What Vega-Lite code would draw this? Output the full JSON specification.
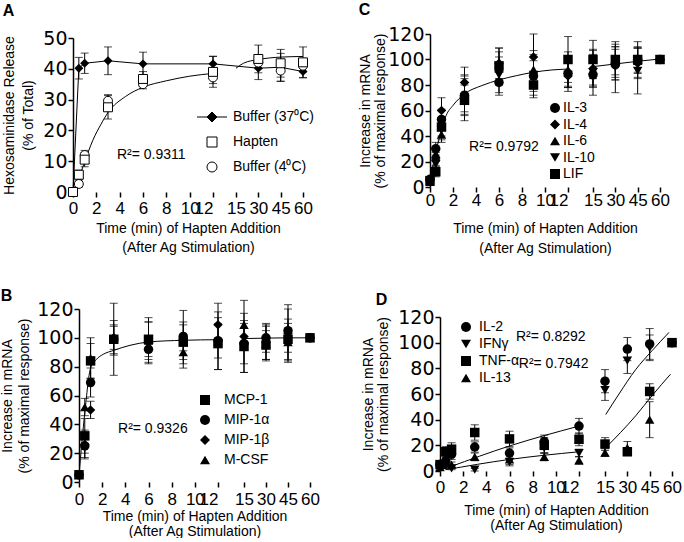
{
"$schema": "https://vega.github.io/schema/vega-lite/v6.json",
"background": "white",
"padding": {"left": 0, "top": 2, "right": 0, "bottom": 0},
"config": {
 "font": "Liberation Sans",
 "view": {"stroke": null},
 "axis": {"grid": false, "domainColor": "black", "tickColor": "black", "labelColor": "black", "titleColor": "black", "domainWidth": 1.5, "tickWidth": 1.5, "tickSize": 5, "labelFont": "DejaVu Sans", "labelFontSize": 18, "titleFont": "Liberation Sans", "titleFontSize": 14, "titleFontWeight": "normal"},
 "axisX": {"labelFont": "Liberation Sans", "labelFontSize": 17},
 "axisY": {"labelFontSize": 19, "labelPadding": 1},
 "legend": {"orient": "none", "padding": 0, "labelFont": "Liberation Sans", "labelFontSize": 14, "labelColor": "black", "symbolSize": 100, "symbolStrokeWidth": 1, "symbolStrokeColor": "black"},
 "title": {"fontSize": 16, "fontWeight": "bold", "anchor": "start", "frame": "bounds", "font": "Liberation Sans", "color": "black"},
 "line": {"color": "black", "strokeWidth": 1}
},
"datasets": {
 "A_pts": [
  {"s":"Buffer (37⁰C)","t":0,"v":0},
  {"s":"Buffer (37⁰C)","t":0.5,"v":40.2,"e":3.5},
  {"s":"Buffer (37⁰C)","t":1,"v":41.8,"e":3.3},
  {"s":"Buffer (37⁰C)","t":3,"v":42.6,"e":4.5},
  {"s":"Buffer (37⁰C)","t":6,"v":41.6,"e":3.8},
  {"s":"Buffer (37⁰C)","t":12,"v":41.6,"e":2.5},
  {"s":"Buffer (37⁰C)","t":30,"v":40.2,"e":3.7},
  {"s":"Buffer (37⁰C)","t":45,"v":40.5,"e":4.5},
  {"s":"Buffer (37⁰C)","t":60,"v":39.1,"e":2},
  {"s":"Buffer (4⁰C)","t":0,"v":0},
  {"s":"Buffer (4⁰C)","t":0.5,"v":2.6,"e":1},
  {"s":"Buffer (4⁰C)","t":1,"v":12,"e":1.5},
  {"s":"Buffer (4⁰C)","t":3,"v":29.6,"e":2},
  {"s":"Buffer (4⁰C)","t":6,"v":35,"e":1.5},
  {"s":"Buffer (4⁰C)","t":12,"v":37.2,"e":2},
  {"s":"Buffer (4⁰C)","t":30,"v":42,"e":2},
  {"s":"Buffer (4⁰C)","t":45,"v":39.4,"e":3.5},
  {"s":"Buffer (4⁰C)","t":60,"v":41,"e":2},
  {"s":"Hapten","t":0,"v":0},
  {"s":"Hapten","t":0.5,"v":5.6,"e":1.5},
  {"s":"Hapten","t":1,"v":10.5,"e":2.3},
  {"s":"Hapten","t":3,"v":27.5,"e":3.8},
  {"s":"Hapten","t":6,"v":36.7,"e":2.4},
  {"s":"Hapten","t":12,"v":39,"e":5},
  {"s":"Hapten","t":30,"v":43.2,"e":4.5},
  {"s":"Hapten","t":45,"v":41.8,"e":4.5},
  {"s":"Hapten","t":60,"v":42.1,"e":5}
 ],
 "A_fit": [
  {"seg":"L","t":0,"v":0},{"seg":"L","t":0.5,"v":4.5},{"seg":"L","t":1,"v":9.8},{"seg":"L","t":1.7,"v":16.8},{"seg":"L","t":2.4,"v":22},{"seg":"L","t":3,"v":25.8},{"seg":"L","t":4.5,"v":31},{"seg":"L","t":6,"v":34},{"seg":"L","t":8,"v":36.1},{"seg":"L","t":10,"v":37.6},{"seg":"L","t":12,"v":38.5},
  {"seg":"R","t":15,"v":40.2},{"seg":"R","t":20,"v":41.8},{"seg":"R","t":30,"v":43},{"seg":"R","t":45,"v":43.8},{"seg":"R","t":60,"v":44}
 ],
 "A_txt": [{"t":3.77,"v":12,"label":"R²= 0.9311"}],
 "C_pts": [
  {"s":"IL-3","t":0,"v":6,"e":2},{"s":"IL-3","t":0.5,"v":30,"e":5},{"s":"IL-3","t":1,"v":53,"e":8},{"s":"IL-3","t":3,"v":72,"e":13},{"s":"IL-3","t":6,"v":82,"e":10},{"s":"IL-3","t":9,"v":87,"e":12},{"s":"IL-3","t":12,"v":89,"e":10},{"s":"IL-3","t":15,"v":88,"e":10},{"s":"IL-3","t":30,"v":96,"e":12},{"s":"IL-3","t":45,"v":100,"e":14},{"s":"IL-3","t":60,"v":100},
  {"s":"IL-4","t":0,"v":5,"e":2},{"s":"IL-4","t":0.5,"v":22,"e":5},{"s":"IL-4","t":1,"v":60,"e":10},{"s":"IL-4","t":3,"v":82,"e":12},{"s":"IL-4","t":6,"v":97,"e":12},{"s":"IL-4","t":9,"v":102,"e":18},{"s":"IL-4","t":12,"v":87,"e":12},{"s":"IL-4","t":15,"v":93,"e":14},{"s":"IL-4","t":30,"v":97,"e":13},{"s":"IL-4","t":45,"v":97,"e":12},{"s":"IL-4","t":60,"v":100},
  {"s":"IL-6","t":0,"v":4,"e":2},{"s":"IL-6","t":0.5,"v":26,"e":6},{"s":"IL-6","t":1,"v":41,"e":6},{"s":"IL-6","t":3,"v":72,"e":15},{"s":"IL-6","t":6,"v":93,"e":13},{"s":"IL-6","t":9,"v":92,"e":15},{"s":"IL-6","t":12,"v":92,"e":14},{"s":"IL-6","t":15,"v":92,"e":12},{"s":"IL-6","t":30,"v":98,"e":12},{"s":"IL-6","t":45,"v":99,"e":10},{"s":"IL-6","t":60,"v":100},
  {"s":"IL-10","t":0,"v":5,"e":2},{"s":"IL-10","t":0.5,"v":18,"e":5},{"s":"IL-10","t":1,"v":45,"e":8},{"s":"IL-10","t":3,"v":70,"e":18},{"s":"IL-10","t":6,"v":88,"e":14},{"s":"IL-10","t":9,"v":88,"e":16},{"s":"IL-10","t":12,"v":88,"e":10},{"s":"IL-10","t":15,"v":90,"e":18},{"s":"IL-10","t":30,"v":94,"e":20},{"s":"IL-10","t":45,"v":91,"e":18},{"s":"IL-10","t":60,"v":100},
  {"s":"LIF","t":0,"v":5,"e":3},{"s":"LIF","t":0.5,"v":12,"e":4},{"s":"LIF","t":1,"v":47,"e":7},{"s":"LIF","t":3,"v":68,"e":12},{"s":"LIF","t":6,"v":95,"e":14},{"s":"LIF","t":9,"v":80,"e":10},{"s":"LIF","t":12,"v":100,"e":18},{"s":"LIF","t":15,"v":100,"e":15},{"s":"LIF","t":30,"v":100,"e":12},{"s":"LIF","t":45,"v":100,"e":10},{"s":"LIF","t":60,"v":100}
 ],
 "C_fit": [
  {"seg":"L","t":0,"v":5},{"seg":"L","t":0.5,"v":27},{"seg":"L","t":1,"v":45},{"seg":"L","t":1.4,"v":56},{"seg":"L","t":2,"v":64},{"seg":"L","t":3,"v":73},{"seg":"L","t":4.5,"v":79.5},{"seg":"L","t":6,"v":84},{"seg":"L","t":7.5,"v":87.3},{"seg":"L","t":9,"v":90},{"seg":"L","t":10.6,"v":91.8},{"seg":"L","t":12,"v":92.5},
  {"seg":"R","t":15,"v":94.4},{"seg":"R","t":30,"v":96.5},{"seg":"R","t":45,"v":98.6},{"seg":"R","t":60,"v":100.4}
 ],
 "C_txt": [{"t":3.4,"v":31.4,"label":"R²= 0.9792"}],
 "B_pts": [
  {"s":"MCP-1","t":0,"v":5,"e":2},{"s":"MCP-1","t":0.5,"v":32,"e":12},{"s":"MCP-1","t":1,"v":84,"e":12},{"s":"MCP-1","t":3,"v":99,"e":25},{"s":"MCP-1","t":6,"v":99,"e":12},{"s":"MCP-1","t":9,"v":97,"e":12},{"s":"MCP-1","t":12,"v":96,"e":18},{"s":"MCP-1","t":15,"v":94,"e":18},{"s":"MCP-1","t":30,"v":95,"e":10},{"s":"MCP-1","t":45,"v":99,"e":14},{"s":"MCP-1","t":60,"v":100},
  {"s":"MIP-1α","t":0,"v":5,"e":1},{"s":"MIP-1α","t":0.5,"v":25,"e":8},{"s":"MIP-1α","t":1,"v":69,"e":10},{"s":"MIP-1α","t":3,"v":99,"e":10},{"s":"MIP-1α","t":6,"v":92,"e":7},{"s":"MIP-1α","t":9,"v":101,"e":10},{"s":"MIP-1α","t":12,"v":98,"e":20},{"s":"MIP-1α","t":15,"v":96,"e":14},{"s":"MIP-1α","t":30,"v":100,"e":10},{"s":"MIP-1α","t":45,"v":105,"e":15},{"s":"MIP-1α","t":60,"v":100},
  {"s":"MIP-1β","t":0,"v":5,"e":1},{"s":"MIP-1β","t":0.5,"v":26,"e":10},{"s":"MIP-1β","t":1,"v":50,"e":6},{"s":"MIP-1β","t":3,"v":100,"e":8},{"s":"MIP-1β","t":6,"v":97,"e":14},{"s":"MIP-1β","t":9,"v":99,"e":20},{"s":"MIP-1β","t":12,"v":109,"e":15},{"s":"MIP-1β","t":15,"v":101,"e":25},{"s":"MIP-1β","t":30,"v":97,"e":12},{"s":"MIP-1β","t":45,"v":103,"e":20},{"s":"MIP-1β","t":60,"v":100},
  {"s":"M-CSF","t":0,"v":5,"e":1},{"s":"M-CSF","t":0.5,"v":52,"e":6},{"s":"M-CSF","t":1,"v":86,"e":14},{"s":"M-CSF","t":3,"v":100,"e":12},{"s":"M-CSF","t":6,"v":98,"e":16},{"s":"M-CSF","t":9,"v":90,"e":8},{"s":"M-CSF","t":12,"v":98,"e":12},{"s":"M-CSF","t":15,"v":109,"e":8},{"s":"M-CSF","t":30,"v":96,"e":12},{"s":"M-CSF","t":45,"v":97,"e":13},{"s":"M-CSF","t":60,"v":100}
 ],
 "B_fit": [
  {"seg":"L","t":0,"v":5},{"seg":"L","t":0.5,"v":48},{"seg":"L","t":1,"v":79},{"seg":"L","t":1.5,"v":85},{"seg":"L","t":2.1,"v":88.6},{"seg":"L","t":3,"v":91.3},{"seg":"L","t":4.4,"v":94.8},{"seg":"L","t":6,"v":97.1},{"seg":"L","t":9,"v":98.3},{"seg":"L","t":12,"v":98.7},
  {"seg":"R","t":15,"v":99.5},{"seg":"R","t":30,"v":99.8},{"seg":"R","t":45,"v":100},{"seg":"R","t":60,"v":100}
 ],
 "B_txt": [{"t":3.37,"v":36.8,"label":"R²= 0.9326"}],
 "D_pts": [
  {"s":"IL-2","t":0,"v":5,"e":2},{"s":"IL-2","t":0.5,"v":8,"e":3},{"s":"IL-2","t":1,"v":13,"e":4},{"s":"IL-2","t":3,"v":18.7,"e":4},{"s":"IL-2","t":6,"v":14,"e":4},{"s":"IL-2","t":9,"v":23,"e":5},{"s":"IL-2","t":12,"v":35,"e":6},{"s":"IL-2","t":15,"v":70,"e":9},{"s":"IL-2","t":30,"v":95,"e":9},{"s":"IL-2","t":45,"v":99,"e":12},{"s":"IL-2","t":60,"v":100},
  {"s":"IFNγ","t":0,"v":3,"e":1},{"s":"IFNγ","t":0.5,"v":4,"e":2},{"s":"IFNγ","t":1,"v":2,"e":1},{"s":"IFNγ","t":3,"v":1,"e":1},{"s":"IFNγ","t":6,"v":7,"e":3},{"s":"IFNγ","t":9,"v":18,"e":4},{"s":"IFNγ","t":12,"v":14,"e":3},{"s":"IFNγ","t":15,"v":63,"e":8},{"s":"IFNγ","t":30,"v":86,"e":10},{"s":"IFNγ","t":45,"v":96,"e":10},{"s":"IFNγ","t":60,"v":100},
  {"s":"TNF-α","t":0,"v":5,"e":2},{"s":"TNF-α","t":0.5,"v":15,"e":4},{"s":"TNF-α","t":1,"v":17,"e":5},{"s":"TNF-α","t":3,"v":30,"e":6},{"s":"TNF-α","t":6,"v":25,"e":6},{"s":"TNF-α","t":9,"v":20,"e":6},{"s":"TNF-α","t":12,"v":24.7,"e":5},{"s":"TNF-α","t":15,"v":21,"e":5},{"s":"TNF-α","t":30,"v":15,"e":3},{"s":"TNF-α","t":45,"v":62,"e":6},{"s":"TNF-α","t":60,"v":100},
  {"s":"IL-13","t":0,"v":3,"e":1},{"s":"IL-13","t":0.5,"v":6,"e":2},{"s":"IL-13","t":1,"v":5,"e":2},{"s":"IL-13","t":3,"v":11,"e":3},{"s":"IL-13","t":6,"v":9,"e":4},{"s":"IL-13","t":9,"v":11,"e":3},{"s":"IL-13","t":12,"v":8.3,"e":3},{"s":"IL-13","t":15,"v":14.3,"e":3},{"s":"IL-13","t":30,"v":18,"e":5},{"s":"IL-13","t":45,"v":40,"e":14},{"s":"IL-13","t":60,"v":100}
 ],
 "D_fit": [
  {"seg":"uL","t":0.8,"v":3},{"seg":"uL","t":6,"v":19.5},{"seg":"uL","t":12,"v":35},
  {"seg":"uR","t":15.5,"v":44},{"seg":"uR","t":24.4,"v":60},{"seg":"uR","t":35.6,"v":79},{"seg":"uR","t":46.8,"v":94},{"seg":"uR","t":58,"v":108},
  {"seg":"lL","t":0.5,"v":1},{"seg":"lL","t":6,"v":9},{"seg":"lL","t":12,"v":15},
  {"seg":"lR","t":15.5,"v":18.2},{"seg":"lR","t":35.6,"v":43},{"seg":"lR","t":46.8,"v":59},{"seg":"lR","t":59,"v":75.4}
 ],
 "D_txt": [{"t":6.56,"v":104.4,"label":"R²= 0.8292"},{"t":6.8,"v":83.4,"label":"R²= 0.7942"}]
},
"spacing": 32,
"resolve": {"scale": {"shape": "independent", "fill": "independent", "stroke": "independent"}, "legend": {"shape": "independent", "fill": "independent", "stroke": "independent"}},
"vconcat": [
 {"spacing": 44,
  "resolve": {"scale": {"shape": "independent", "fill": "independent", "stroke": "independent"}, "legend": {"shape": "independent", "fill": "independent", "stroke": "independent"}},
  "hconcat": [
  {
   "width": 230, "height": 158,
   "title": {"text": "A", "offset": 10},
   "encoding": {
    "x": {"field": "t", "type": "quantitative",
     "scale": {"domain": [0, 12, 15, 60], "range": [0, 140, 163, 230], "nice": false, "zero": false},
     "axis": {"title": ["Time (min) of Hapten Addition", "(After Ag Stimulation)"], "values": [0, 2, 4, 6, 8, 10, 12, 15, 30, 45, 60], "domain": false, "labelOverlap": false, "labelFlush": false, "labelBound": false, "labelPadding": 3, "titlePadding": 5, "titleLineHeight": 19,
      "labelAlign": {"expr": "datum.value == 12 ? 'right' : 'center'"}}},
    "y": {"field": "v", "type": "quantitative",
     "scale": {"domain": [0, 50], "range": [158, 4], "nice": false, "zero": false},
     "axis": {"title": ["Hexosaminidase Release", "(% of Total)"], "values": [0, 10, 20, 30, 40, 50], "titlePadding": 7, "titleLineHeight": 19}}
   },
   "layer": [
    {"data": {"name": "A_fit"}, "mark": {"type": "line", "interpolate": "monotone", "color": "black", "strokeWidth": 1}, "encoding": {"detail": {"field": "seg"}}},
    {"data": {"name": "A_pts"}, "transform": [{"filter": "datum.s == 'Buffer (37⁰C)'"}], "mark": {"type": "line", "color": "black", "strokeWidth": 1}},
    {"data": {"name": "A_pts"}, "transform": [{"filter": "datum.e > 0"}], "mark": {"type": "errorbar", "color": "black", "ticks": {"size": 8, "color": "black"}, "rule": {"color": "black", "strokeWidth": 1}}, "encoding": {"yError": {"field": "e"}}},
    {"data": {"name": "A_pts"}, "transform": [{"filter": "datum.s == 'Buffer (37⁰C)'"}], "mark": {"type": "point", "shape": "diamond", "filled": true, "color": "black", "size": 80, "opacity": 1}},
    {"data": {"name": "A_pts"}, "transform": [{"filter": "datum.s != 'Buffer (37⁰C)'"}], "mark": {"type": "point", "filled": true, "strokeWidth": 1, "size": 80, "opacity": 1},
     "encoding": {
      "shape": {"field": "s", "type": "nominal", "scale": {"domain": ["Buffer (37⁰C)", "Hapten", "Buffer (4⁰C)"], "range": ["M-3,0L3,0M0,-1L1,0L0,1L-1,0Z", "square", "circle"]},
       "legend": {"title": null, "legendX": 132, "legendY": 76, "rowPadding": 11, "labelOffset": 14, "symbolSize": 100}},
      "fill": {"field": "s", "type": "nominal", "scale": {"domain": ["Buffer (37⁰C)", "Hapten", "Buffer (4⁰C)"], "range": ["black", "white", "white"]},
       "legend": {"title": null, "legendX": 132, "legendY": 76, "rowPadding": 11, "labelOffset": 14, "symbolSize": 100}},
      "stroke": {"field": "s", "type": "nominal", "scale": {"domain": ["Buffer (37⁰C)", "Hapten", "Buffer (4⁰C)"], "range": ["black", "black", "black"]},
       "legend": {"title": null, "legendX": 132, "legendY": 76, "rowPadding": 11, "labelOffset": 14, "symbolSize": 100}}
     }},
    {"data": {"values": [{}]}, "mark": {"type": "rule", "color": "black", "strokeWidth": 1.5}, "encoding": {"x": {"datum": 0}, "x2": {"datum": 12}, "y": {"datum": 0}}},
    {"data": {"values": [{}]}, "mark": {"type": "rule", "color": "black", "strokeWidth": 1.5}, "encoding": {"x": {"datum": 15}, "x2": {"datum": 60}, "y": {"datum": 0}}},
    {"data": {"name": "A_txt"}, "mark": {"type": "text", "align": "left", "baseline": "middle", "fontSize": 14, "color": "black"}, "encoding": {"text": {"field": "label"}}}
   ]
  },
  {
   "width": 230, "height": 153,
   "title": {"text": "C", "offset": 7},
   "encoding": {
    "x": {"field": "t", "type": "quantitative",
     "scale": {"domain": [0, 12, 15, 60], "range": [0, 138, 163, 230], "nice": false, "zero": false},
     "axis": {"title": ["Time (min) of Hapten Addition", "(After Ag Stimulation)"], "values": [0, 2, 4, 6, 8, 10, 12, 15, 30, 45, 60], "domain": false, "labelOverlap": false, "labelFlush": false, "labelBound": false, "labelPadding": 0, "titlePadding": 13, "titleLineHeight": 20,
      "labelAlign": {"expr": "datum.value == 12 ? 'right' : 'center'"}}},
    "y": {"field": "v", "type": "quantitative",
     "scale": {"domain": [0, 120], "range": [153, 0], "nice": false, "zero": false},
     "axis": {"title": ["Increase in mRNA", "(% of maximal response)"], "values": [0, 20, 40, 60, 80, 100, 120], "titlePadding": 0, "titleLineHeight": 15}}
   },
   "layer": [
    {"data": {"name": "C_fit"}, "mark": {"type": "line", "interpolate": "monotone", "color": "black", "strokeWidth": 1}, "encoding": {"detail": {"field": "seg"}}},
    {"data": {"name": "C_pts"}, "transform": [{"filter": "datum.e > 0"}], "mark": {"type": "errorbar", "color": "black", "ticks": {"size": 8, "color": "black"}, "rule": {"color": "black", "strokeWidth": 1}}, "encoding": {"yError": {"field": "e"}}},
    {"data": {"name": "C_pts"}, "mark": {"type": "point", "filled": true, "color": "black", "size": 90, "opacity": 1},
     "encoding": {
      "shape": {"field": "s", "type": "nominal", "scale": {"domain": ["IL-3", "IL-4", "IL-6", "IL-10", "LIF"], "range": ["circle", "diamond", "triangle-up", "triangle-down", "square"]},
       "legend": {"title": null, "legendX": 118, "legendY": 67, "rowPadding": 2.5, "labelOffset": 1, "symbolSize": 100, "symbolFillColor": "black"}}
     }},
    {"data": {"values": [{}]}, "mark": {"type": "rule", "color": "black", "strokeWidth": 1.5}, "encoding": {"x": {"datum": 0}, "x2": {"datum": 12}, "y": {"datum": 0}}},
    {"data": {"values": [{}]}, "mark": {"type": "rule", "color": "black", "strokeWidth": 1.5}, "encoding": {"x": {"datum": 15}, "x2": {"datum": 60}, "y": {"datum": 0}}},
    {"data": {"name": "C_txt"}, "mark": {"type": "text", "align": "left", "baseline": "middle", "fontSize": 14, "color": "black"}, "encoding": {"text": {"field": "label"}}}
   ]
  }
 ]},
 {"spacing": 41,
  "resolve": {"scale": {"shape": "independent", "fill": "independent", "stroke": "independent"}, "legend": {"shape": "independent", "fill": "independent", "stroke": "independent"}},
  "hconcat": [
  {
   "width": 237, "height": 173,
   "title": {"text": "B", "offset": -4},
   "encoding": {
    "x": {"field": "t", "type": "quantitative",
     "scale": {"domain": [0, 12, 15, 60], "range": [6, 145, 171, 237], "nice": false, "zero": false},
     "axis": {"title": ["Time (min) of Hapten Addition", "(After Ag Stimulation)"], "values": [0, 2, 4, 6, 8, 10, 12, 15, 30, 45, 60], "domain": false, "labelOverlap": false, "labelFlush": false, "labelBound": false, "labelPadding": 4, "titlePadding": 2, "titleLineHeight": 15,
      "labelAlign": {"expr": "datum.value == 12 ? 'right' : 'center'"}}},
    "y": {"field": "v", "type": "quantitative",
     "scale": {"domain": [0, 120], "range": [173, 0], "nice": false, "zero": false},
     "axis": {"title": ["Increase in mRNA", "(% of maximal response)"], "values": [0, 20, 40, 60, 80, 100, 120], "offset": -6, "titlePadding": 5, "titleLineHeight": 17}}
   },
   "layer": [
    {"data": {"name": "B_fit"}, "mark": {"type": "line", "interpolate": "monotone", "color": "black", "strokeWidth": 1}, "encoding": {"detail": {"field": "seg"}}},
    {"data": {"name": "B_pts"}, "transform": [{"filter": "datum.e > 0"}], "mark": {"type": "errorbar", "color": "black", "ticks": {"size": 8, "color": "black"}, "rule": {"color": "black", "strokeWidth": 1}}, "encoding": {"yError": {"field": "e"}}},
    {"data": {"name": "B_pts"}, "mark": {"type": "point", "filled": true, "color": "black", "size": 90, "opacity": 1},
     "encoding": {
      "shape": {"field": "s", "type": "nominal", "scale": {"domain": ["MCP-1", "MIP-1α", "MIP-1β", "M-CSF"], "range": ["square", "circle", "diamond", "triangle-up"]},
       "legend": {"title": null, "legendX": 125, "legendY": 84, "rowPadding": 6, "labelOffset": 12, "symbolSize": 100, "symbolFillColor": "black"}}
     }},
    {"data": {"values": [{}]}, "mark": {"type": "rule", "color": "black", "strokeWidth": 1.5}, "encoding": {"x": {"datum": 0}, "x2": {"datum": 12}, "y": {"datum": 0}}},
    {"data": {"values": [{}]}, "mark": {"type": "rule", "color": "black", "strokeWidth": 1.5}, "encoding": {"x": {"datum": 15}, "x2": {"datum": 60}, "y": {"datum": 0}}},
    {"data": {"name": "B_txt"}, "mark": {"type": "text", "align": "left", "baseline": "middle", "fontSize": 14, "color": "black"}, "encoding": {"text": {"field": "label"}}}
   ]
  },
  {
   "width": 232, "height": 162,
   "title": {"text": "D", "offset": 0, "dx": 14},
   "encoding": {
    "x": {"field": "t", "type": "quantitative",
     "scale": {"domain": [0, 12, 15, 60], "range": [0, 139, 165, 232], "nice": false, "zero": false},
     "axis": {"title": ["Time (min) of Hapten Addition", "(After Ag Stimulation)"], "values": [0, 2, 4, 6, 8, 10, 12, 15, 30, 45, 60], "domain": false, "labelOverlap": false, "labelFlush": false, "labelBound": false, "labelPadding": 3, "titlePadding": 8, "titleLineHeight": 15,
      "labelAlign": {"expr": "datum.value == 12 ? 'right' : 'center'"}}},
    "y": {"field": "v", "type": "quantitative",
     "scale": {"domain": [0, 120], "range": [162, 8], "nice": false, "zero": false},
     "axis": {"title": ["Increase in mRNA", "(% of maximal response)"], "values": [0, 20, 40, 60, 80, 100, 120], "titlePadding": 7, "titleLineHeight": 15}}
   },
   "layer": [
    {"data": {"name": "D_fit"}, "mark": {"type": "line", "interpolate": "monotone", "color": "black", "strokeWidth": 1}, "encoding": {"detail": {"field": "seg"}}},
    {"data": {"name": "D_pts"}, "transform": [{"filter": "datum.e > 0"}], "mark": {"type": "errorbar", "color": "black", "ticks": {"size": 8, "color": "black"}, "rule": {"color": "black", "strokeWidth": 1}}, "encoding": {"yError": {"field": "e"}}},
    {"data": {"name": "D_pts"}, "mark": {"type": "point", "filled": true, "color": "black", "size": 90, "opacity": 1},
     "encoding": {
      "shape": {"field": "s", "type": "nominal", "scale": {"domain": ["IL-2", "IFNγ", "TNF-α", "IL-13"], "range": ["circle", "triangle-down", "square", "triangle-up"]},
       "legend": {"title": null, "legendX": 19, "legendY": 11, "rowPadding": 3, "labelOffset": 6, "symbolSize": 100, "symbolFillColor": "black"}}
     }},
    {"data": {"values": [{}]}, "mark": {"type": "rule", "color": "black", "strokeWidth": 1.5}, "encoding": {"x": {"datum": 0}, "x2": {"datum": 12}, "y": {"datum": 0}}},
    {"data": {"values": [{}]}, "mark": {"type": "rule", "color": "black", "strokeWidth": 1.5}, "encoding": {"x": {"datum": 15}, "x2": {"datum": 60}, "y": {"datum": 0}}},
    {"data": {"name": "D_txt"}, "mark": {"type": "text", "align": "left", "baseline": "middle", "fontSize": 14, "color": "black"}, "encoding": {"text": {"field": "label"}}}
   ]
  }
 ]}
]
}
